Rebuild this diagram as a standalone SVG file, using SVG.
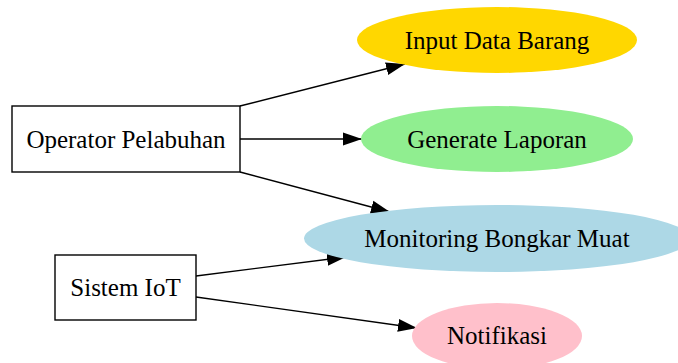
<svg xmlns="http://www.w3.org/2000/svg" width="678" height="363" viewBox="0 0 678 363">
<style>
text{font-family:"Liberation Serif","Times New Roman",serif;font-size:25px;fill:#000;text-anchor:middle;dominant-baseline:central}
.box{fill:#fff;stroke:#000;stroke-width:1.4}
.edge{stroke:#000;stroke-width:1.4;fill:none}
</style>
<defs>
<marker id="arr" markerUnits="userSpaceOnUse" markerWidth="20" markerHeight="15" refX="19" refY="7.5" orient="auto">
<path d="M0,1 L19,7.5 L0,14 Z" fill="#000"/>
</marker>
</defs>
<rect width="678" height="363" fill="#fff"/>
<g id="connectors">
<line class="edge" x1="240" y1="106" x2="405" y2="64" marker-end="url(#arr)"/>
<line class="edge" x1="240" y1="139" x2="362" y2="139" marker-end="url(#arr)"/>
<line class="edge" x1="240" y1="172" x2="390" y2="212" marker-end="url(#arr)"/>
<line class="edge" x1="196" y1="276" x2="346" y2="257" marker-end="url(#arr)"/>
<line class="edge" x1="196" y1="297" x2="417" y2="328" marker-end="url(#arr)"/>
</g>
<g id="operator">
<rect class="box" x="12" y="106" width="228" height="66"/>
<text x="126" y="139">Operator Pelabuhan</text>
</g>
<g id="sistem">
<rect class="box" x="55" y="255" width="141" height="65"/>
<text x="125.5" y="287">Sistem IoT</text>
</g>
<g id="input">
<ellipse cx="497" cy="40" rx="140" ry="33" fill="#FFD700"/>
<text x="497" y="40">Input Data Barang</text>
</g>
<g id="generate">
<ellipse cx="497" cy="139" rx="136" ry="33" fill="#90EE90"/>
<text x="497" y="139">Generate Laporan</text>
</g>
<g id="monitoring">
<ellipse cx="497" cy="238.5" rx="193" ry="33.5" fill="#ADD8E6"/>
<text x="497" y="238">Monitoring Bongkar Muat</text>
</g>
<g id="notifikasi">
<ellipse cx="497" cy="336" rx="85" ry="33" fill="#FFC0CB"/>
<text x="497" y="335">Notifikasi</text>
</g>
</svg>
